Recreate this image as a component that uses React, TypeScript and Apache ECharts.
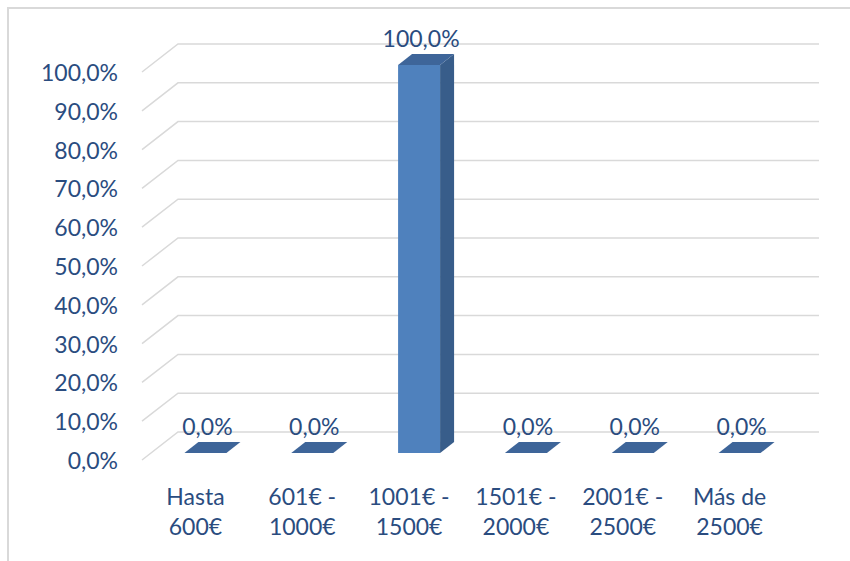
import React, { useEffect, useRef } from "react";
import * as echarts from "echarts";

const categories = [
  "Hasta\n600€",
  "601€ -\n1000€",
  "1001€ -\n1500€",
  "1501€ -\n2000€",
  "2001€ -\n2500€",
  "Más de\n2500€",
];
const values = [0, 0, 100, 0, 0, 0];
const yTicks = [0, 10, 20, 30, 40, 50, 60, 70, 80, 90, 100];

const FONT = "Lato";
const TEXT = "#2a4c7f";
const fmt = (v: number) => v.toFixed(1).replace(".", ",") + "%";

export default function App() {
  const ref = useRef<HTMLDivElement>(null);
  useEffect(() => {
    document.body.style.margin = "0";
    const chart = echarts.init(ref.current!, null, { renderer: "svg" });
    const wallDx = 36;
    const wallDy = -28;
    const barW = 42;
    const fdx = 10;
    const fdy = -7;
    const ddx = 14;
    const ddy = -11;
    chart.setOption({
      animation: false,
      backgroundColor: "#ffffff",
      graphic: [
        {
          type: "rect",
          shape: { x: 8, y: 8, width: 1000, height: 1000 },
          style: { fill: "none", stroke: "#d9d9d9", lineWidth: 2 },
          z: -10,
        },
      ],
      grid: { left: 142, top: 72, right: 67, bottom: 101 },
      xAxis: {
        type: "category",
        data: categories,
        axisLine: { show: false },
        axisTick: { show: false },
        axisLabel: {
          fontFamily: FONT,
          fontSize: 23,
          color: TEXT,
          lineHeight: 30,
          margin: 21,
          interval: 0,
        },
      },
      yAxis: {
        type: "value",
        min: 0,
        max: 100,
        interval: 10,
        axisLine: { show: false },
        axisTick: { show: false },
        splitLine: { show: false },
        axisLabel: {
          fontFamily: FONT,
          fontSize: 23,
          color: TEXT,
          margin: 24,
          formatter: (v: number) => fmt(v),
        },
      },
      series: [
        {
          type: "custom",
          silent: true,
          z: 1,
          data: yTicks.map((v) => [0, v]),
          renderItem: (params: any, api: any) => {
            const cs = params.coordSys;
            const y = api.coord([0, api.value(1)])[1];
            return {
              type: "polyline",
              shape: {
                points: [
                  [cs.x, y],
                  [cs.x + wallDx, y + wallDy],
                  [cs.x + cs.width + wallDx, y + wallDy],
                ],
              },
              style: { stroke: "#d9d9d9", lineWidth: 1.5, fill: "none" },
            };
          },
        },
        {
          type: "custom",
          z: 5,
          data: values.map((v, i) => [i, v]),
          renderItem: (params: any, api: any) => {
            const idx = api.value(0);
            const val = api.value(1);
            const top = api.coord([idx, val]);
            const base = api.coord([idx, 0]);
            const cx = top[0] + fdx;
            const x0 = cx - barW / 2;
            const x1 = cx + barW / 2;
            const yb = base[1] + fdy;
            const yt = top[1] + fdy;
            const children: any[] = [];
            if (yb - yt > 0.5) {
              children.push({
                type: "rect",
                shape: { x: x0, y: yt, width: barW, height: yb - yt },
                style: { fill: "#4f81bd" },
              });
              children.push({
                type: "polygon",
                shape: {
                  points: [
                    [x1, yt],
                    [x1 + ddx, yt + ddy],
                    [x1 + ddx, yb + ddy],
                    [x1, yb],
                  ],
                },
                style: { fill: "#385d8a" },
              });
            }
            children.push({
              type: "polygon",
              shape: {
                points: [
                  [x0, yt],
                  [x1, yt],
                  [x1 + ddx, yt + ddy],
                  [x0 + ddx, yt + ddy],
                ],
              },
              style: { fill: "#3e6599" },
            });
            children.push({
              type: "text",
              style: {
                text: fmt(val),
                x: cx + 2,
                y: yt + ddy - 16,
                align: "center",
                verticalAlign: "middle",
                fontFamily: FONT,
                fontSize: 23,
                fill: TEXT,
              },
            });
            return { type: "group", children };
          },
        },
      ],
    });
    return () => chart.dispose();
  }, []);
  return <div ref={ref} style={{ width: 850, height: 561 }} />;
}
